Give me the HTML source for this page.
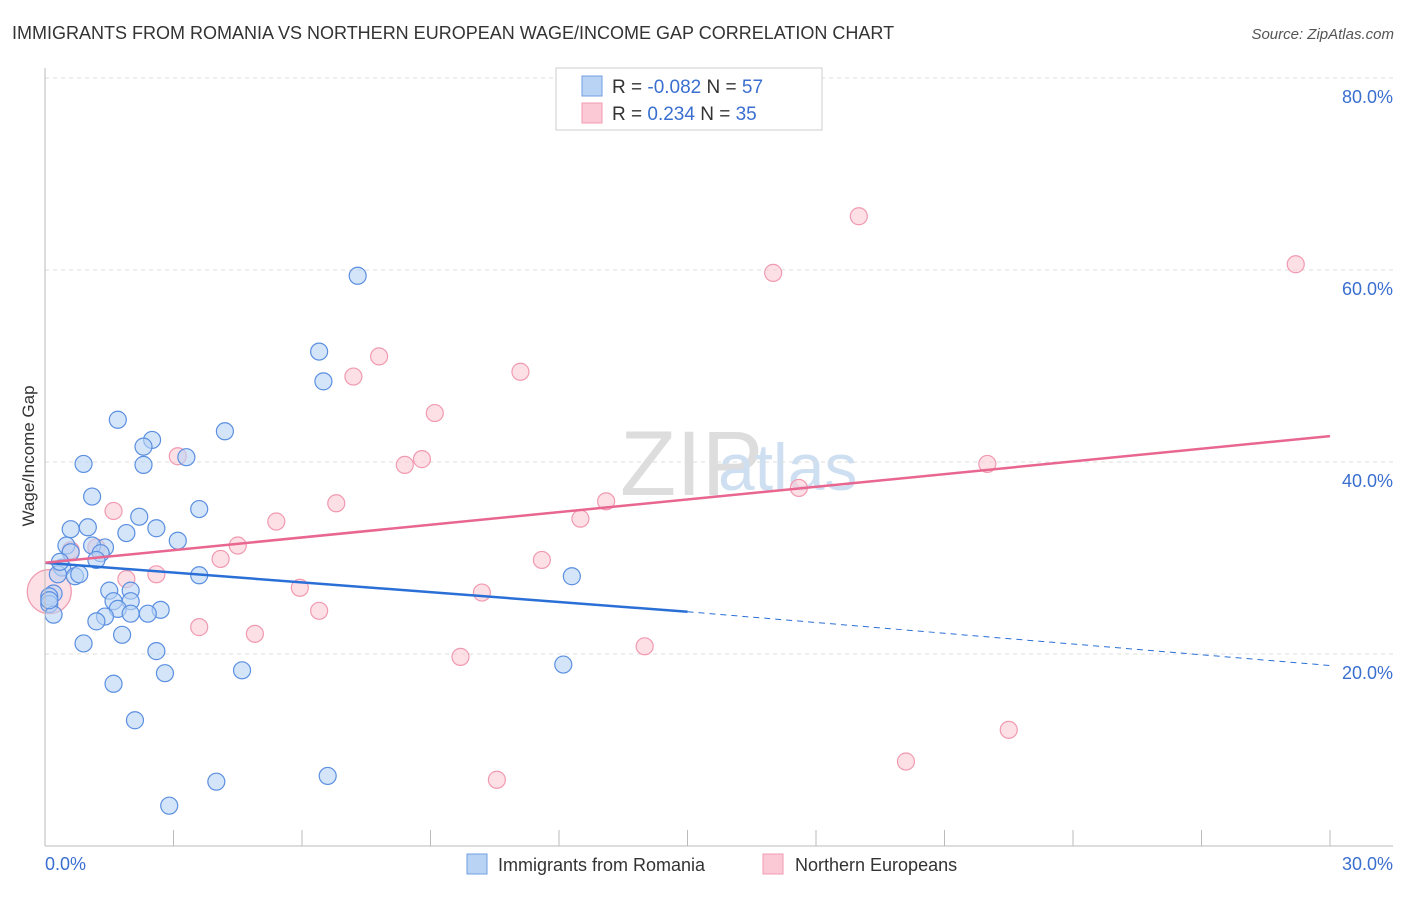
<!DOCTYPE html>
<html><head><meta charset="utf-8"><style>
body{margin:0;background:#fff;font-family:"Liberation Sans",sans-serif}
svg text{font-family:"Liberation Sans",sans-serif}
</style></head><body>
<svg width="1406" height="892" id="c">
<text x="12" y="39" font-size="18" fill="#333">IMMIGRANTS FROM ROMANIA VS NORTHERN EUROPEAN WAGE/INCOME GAP CORRELATION CHART</text>
<text x="1394" y="39" font-size="15" fill="#555" font-style="italic" text-anchor="end">Source: ZipAtlas.com</text>
<text x="34" y="456" font-size="17" fill="#333" text-anchor="middle" transform="rotate(-90 34 456)">Wage/Income Gap</text>
<text x="620" y="495" font-size="92" fill="#ddd" font-family="Liberation Serif">ZIP</text>
<text x="718" y="490" font-size="66" fill="#cfdff2">atlas</text>
<g id="grid"></g><g id="pts"></g><g id="lines"></g>
<line x1="45" y1="68" x2="45" y2="846" stroke="#bbb"/>
<line x1="45" y1="846" x2="1393" y2="846" stroke="#bbb"/>
<text x="45" y="870" font-size="18" fill="#3a6fd0">0.0%</text>
<text x="1393" y="870" font-size="18" fill="#3a6fd0" text-anchor="end">30.0%</text>
<g>
<rect x="556" y="68" width="266" height="62" fill="#fff" stroke="#ccc"/>
<rect x="582" y="76" width="20" height="20" fill="#b9d3f5" stroke="#6f9fe0"/>
<rect x="582" y="103" width="20" height="20" fill="#fbc9d6" stroke="#f09ab0"/>
<text x="612" y="93" font-size="19" fill="#333">R = <tspan fill="#3a6fd0">-0.082</tspan>   N = <tspan fill="#3a6fd0">57</tspan></text>
<text x="612" y="120" font-size="19" fill="#333">R =   <tspan fill="#3a6fd0">0.234</tspan>   N = <tspan fill="#3a6fd0">35</tspan></text>
</g>
<g>
<rect x="467" y="854" width="20" height="20" fill="#b9d3f5" stroke="#6f9fe0"/>
<text x="498" y="871" font-size="18" fill="#333">Immigrants from Romania</text>
<rect x="763" y="854" width="20" height="20" fill="#fbc9d6" stroke="#f09ab0"/>
<text x="795" y="871" font-size="18" fill="#333">Northern Europeans</text>
</g>
</svg>
<script>
const yTicks=[20,40,60,80];
const blueX=[7.3,6.4,6.5,1.7,2.5,2.3,4.2,3.3,2.3,0.9,1.1,3.6,2.2,2.6,0.6,1.0,1.9,3.1,0.5,1.4,1.1,0.6,1.3,1.2,0.4,0.3,0.7,0.8,3.6,12.3,0.2,1.5,2.0,1.6,2.0,0.1,0.1,1.7,2.7,2.4,2.0,1.4,1.2,0.2,1.8,0.9,2.6,2.8,4.6,12.1,1.6,2.1,4.0,6.6,2.9,0.1,0.35];
const blueY=[59.4,51.5,48.4,44.4,42.3,41.6,43.2,40.5,39.7,39.8,36.4,35.1,34.3,33.1,33.0,33.2,32.6,31.8,31.3,31.1,31.3,30.6,30.5,29.8,29.0,28.3,28.1,28.3,28.2,28.1,26.3,26.6,26.6,25.5,25.5,26.0,25.2,24.7,24.6,24.2,24.2,23.9,23.4,24.1,22.0,21.1,20.3,18.0,18.3,18.9,16.9,13.1,6.7,7.3,4.2,25.6,29.6];
const pinkX=[19.0,29.2,17.0,7.8,7.2,11.1,9.1,3.1,8.8,8.4,22.0,17.6,1.6,6.8,13.1,5.4,12.5,4.5,1.2,0.6,4.1,11.6,1.9,2.6,5.95,10.2,6.4,3.6,4.9,14.0,9.7,22.5,20.1,10.55,0.1];
const pinkY=[65.6,60.6,59.7,51.0,48.9,49.4,45.1,40.6,40.3,39.7,39.8,37.3,34.9,35.7,35.9,33.8,34.1,31.3,31.1,30.8,29.9,29.8,27.8,28.3,26.9,26.4,24.5,22.8,22.1,20.8,19.7,12.1,8.8,6.9,26.5];
const blueLine=[29.5,24.4,18.8], pinkLine=[29.5,42.7];
const X=v=>45+v/30*1285, Y=v=>846-v/20*192;
const NS='http://www.w3.org/2000/svg';
function mk(t,a,p){const e=document.createElementNS(NS,t);for(const k in a)e.setAttribute(k,a[k]);p.appendChild(e);return e;}
const g=document.getElementById('grid');
yTicks.forEach(t=>{
 const l=mk('line',{x1:45,x2:1393,y1:Y(t),y2:Y(t),stroke:'#ddd','stroke-dasharray':'4,4'},g);
 
 
 const tx=mk('text',{x:1393,y:Y(t)+25,'font-size':18,fill:'#3a6fd0','text-anchor':'end'},g);tx.textContent=t.toFixed(1)+'%';
 
 
});
for(let i=1;i<=10;i++){const l=mk('line',{x1:X(i*3),x2:X(i*3),y1:830,y2:846,stroke:'#bbb'},g);
 
 }
const p=document.getElementById('pts');
pinkX.forEach((x,i)=>{const c=mk('circle',{cx:X(x),cy:Y(pinkY[i]),r:i==34?22:8.5,fill:'#fbc9d6','fill-opacity':0.6,stroke:'#f09ab0','stroke-width':1.2},p);
 
 });
blueX.forEach((x,i)=>{const c=mk('circle',{cx:X(x),cy:Y(blueY[i]),r:8.5,fill:'#b9d3f5','fill-opacity':0.6,stroke:'#5b8fe0','stroke-width':1.2},p);
 
 });
const L=document.getElementById('lines');
let a=mk('line',{x1:X(0),y1:Y(blueLine[0]),x2:X(15),y2:Y(blueLine[1]),stroke:'#2a6fd6','stroke-width':2.5},L);


a=mk('line',{x1:X(15),y1:Y(blueLine[1]),x2:X(30),y2:Y(blueLine[2]),stroke:'#2a6fd6','stroke-width':1,'stroke-dasharray':'6,5'},L);


a=mk('line',{x1:X(0),y1:Y(pinkLine[0]),x2:X(30),y2:Y(pinkLine[1]),stroke:'#e8668f','stroke-width':2.5},L);


</script>
</body></html>
